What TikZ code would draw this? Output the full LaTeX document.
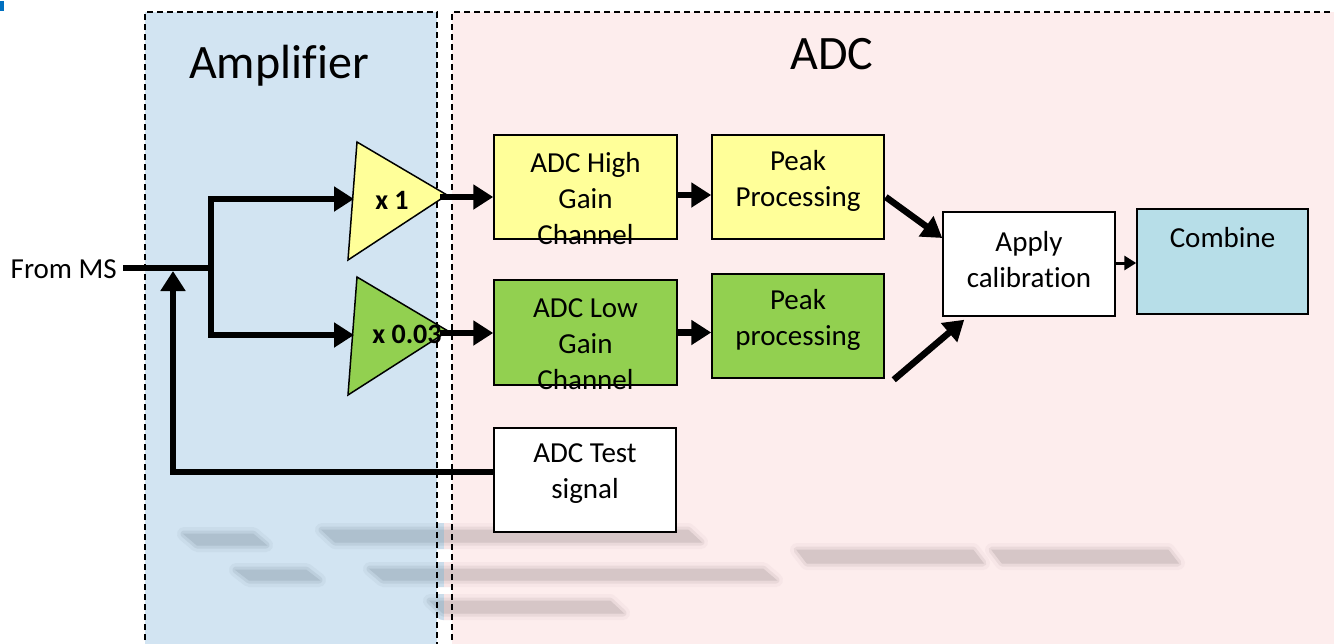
\documentclass[tikz,border=0pt]{standalone}
\usepackage{fontspec}
\setmainfont{Carlito}[Ligatures={NoCommon}]
\usetikzlibrary{arrows.meta,calc}
\definecolor{ampblue}{HTML}{D2E4F2}
\definecolor{adcpink}{HTML}{FDEDED}
\definecolor{hiyel}{HTML}{FFFF99}
\definecolor{logrn}{HTML}{92D050}
\definecolor{combblue}{HTML}{B7DEE8}
\definecolor{cornerblue}{HTML}{0070C0}
\definecolor{bA}{HTML}{CADCEA}
\definecolor{bB}{HTML}{BDCFDD}
\definecolor{bC}{HTML}{AEC0CE}
\definecolor{pA}{HTML}{F7E6E7}
\definecolor{pB}{HTML}{EAD9DA}
\definecolor{pC}{HTML}{D6C6C7}
\newcommand{\reflbar}[1]{%
  \begin{scope}\clip (0,0) rectangle (444,643);
    \draw[bA,line width=14pt,line join=round] #1;
    \draw[bB,line width=7pt,line join=round] #1;
    \filldraw[bC,line width=1pt] #1;
  \end{scope}
  \begin{scope}\clip (444,0) rectangle (1334,643);
    \draw[pA,line width=14pt,line join=round] #1;
    \draw[pB,line width=7pt,line join=round] #1;
    \filldraw[pC,line width=1pt] #1;
  \end{scope}}
\begin{document}
\begin{tikzpicture}[x=1pt,y=-1pt,
  blk/.style={draw=black,line width=1.5pt,inner sep=0pt},
  txt/.style={align=center,inner sep=0pt,font=\fontsize{29}{36}\selectfont},
  bigtxt/.style={inner sep=0pt,font=\fontsize{48}{56}\selectfont},
  gaintxt/.style={inner sep=0pt,font=\bfseries\fontsize{28}{32}\selectfont},
  region/.style={draw=black,line width=1.4pt,dash pattern=on 6pt off 4pt},
  thk/.style={line width=6.5pt,-{Triangle[length=20pt,width=24pt]}},
  thkline/.style={line width=6.5pt},
  thin/.style={line width=3pt,-{Triangle[length=12pt,width=14pt]}}
]
\useasboundingbox (0,0) rectangle (1334,643);
% regions
\fill[white] (0,0) rectangle (1334,643);
\fill[cornerblue] (0,1) rectangle (4,11);
\fill[ampblue] (145,12) rectangle (437,660);
\fill[adcpink] (452,12) rectangle (1345,660);
% faint reflection
\reflbar{(184,534) -- (253,534) -- (266,545) -- (197,545) -- cycle}
\reflbar{(236,570) -- (306,570) -- (319,580) -- (249,580) -- cycle}
\reflbar{(322,530) -- (688,530) -- (701,542) -- (335,542) -- cycle}
\reflbar{(370,569) -- (763,569) -- (776,580) -- (383,580) -- cycle}
\reflbar{(430,601) -- (610,601) -- (623,613) -- (443,613) -- cycle}
\reflbar{(797,550) -- (973,550) -- (983,563) -- (807,563) -- cycle}
\reflbar{(992,550) -- (1168,550) -- (1178,563) -- (1002,563) -- cycle}
\draw[region] (145,660) -- (145,12) -- (437,12) -- (437,660);
\draw[region] (452,660) -- (452,12) -- (1345,12);
\node[bigtxt] (amptitle) at (279,66) {Amplifier};
\node[bigtxt] (adctitle) at (832,54) {ADC};
% amplifier triangles
\coordinate (t1a) at (357,142); \coordinate (t1b) at (447,195); \coordinate (t1c) at (348,260);
\coordinate (t2a) at (357,277); \coordinate (t2b) at (448,331); \coordinate (t2c) at (348,395);
\draw[fill=hiyel,line width=1.5pt,line join=miter] (t1a) -- (t1b) -- (t1c) -- cycle;
\draw[fill=logrn,line width=1.5pt,line join=miter] (t2a) -- (t2b) -- (t2c) -- cycle;
\coordinate (t1in) at (354,199); \coordinate (t2in) at (354,335);
\coordinate (t1out) at (440,197); \coordinate (t2out) at (440,333);
% blocks
\node[blk,fill=hiyel,minimum width=183pt,minimum height=104pt] (hg) at (585.5,187) {};
\node[blk,fill=logrn,minimum width=183pt,minimum height=105pt] (lg) at (585.5,332.5) {};
\node[blk,fill=hiyel,minimum width=172pt,minimum height=104pt] (pkh) at (798,187) {};
\node[blk,fill=logrn,minimum width=172pt,minimum height=104pt] (pkl) at (798,326) {};
\node[blk,fill=white,minimum width=172pt,minimum height=104pt] (apply) at (1029,264) {};
\node[blk,fill=combblue,minimum width=171pt,minimum height=105pt] (comb) at (1222.5,261.5) {};
\node[blk,fill=white,minimum width=182pt,minimum height=104pt] (test) at (585,480) {};
% block texts
\node[txt] (hgt) at ($(hg.center)+(0,12)$) {ADC High\\Gain\\Channel};
\node[txt] (lgt) at ($(lg.center)+(0,12)$) {ADC Low\\Gain\\Channel};
\node[txt] (pkht) at ($(pkh.center)+(0,-6)$) {Peak\\Processing};
\node[txt] (pklt) at ($(pkl.center)+(0,-6)$) {Peak\\processing};
\node[txt] (applyt) at ($(apply.center)+(0,-4)$) {Apply\\calibration};
\node[txt] (combt) at ($(comb.north)+(0,29)$) {Combine};
\node[txt] (testt) at ($(test.center)+(0,-6)$) {ADC Test\\signal};
% input
\node[txt,anchor=east] (ms) at (117,269) {From MS};
\coordinate (msend) at (123,268);
\coordinate (j) at (211,268);
\coordinate (fb) at (173,271);
\coordinate (fbc) at (173,472);
\draw[thkline] (msend) -- (j);
\draw[thk] (j) |- (t1in);
\draw[thk] (j) |- (t2in);
\draw[thk] ($(test.west)+(0,-8)$) -- (fbc) -- (fb);
% amplifier outputs
\draw[thk] (t1out) -- (t1out -| hg.west);
\draw[thk] (t2out) -- (t2out -| lg.west);
% adc to peak
\draw[thk] ($(hg.east)+(0,8)$) -- ($(pkh.west)+(0,8)$);
\draw[thk] ($(lg.east)+(0,0)$) -- ($(lg.east -| pkl.west)$);
% peak to apply
\draw[thk] ($(pkh.east)+(1,10)$) -- ($(apply.west)+(0,-26)$);
\draw[thk] ($(pkl.south east)+(9,1)$) -- ($(apply.south west)+(22,3)$);
% apply to combine
\draw[thin] ($(apply.east)+(0,-1)$) -- ($(apply.east -| comb.west)+(0,-1)$);
% gain labels
\node[gaintxt] (g1) at (392,200) {x 1};
\node[gaintxt] (g2) at (407,334) {x 0.03};
\end{tikzpicture}
\end{document}
